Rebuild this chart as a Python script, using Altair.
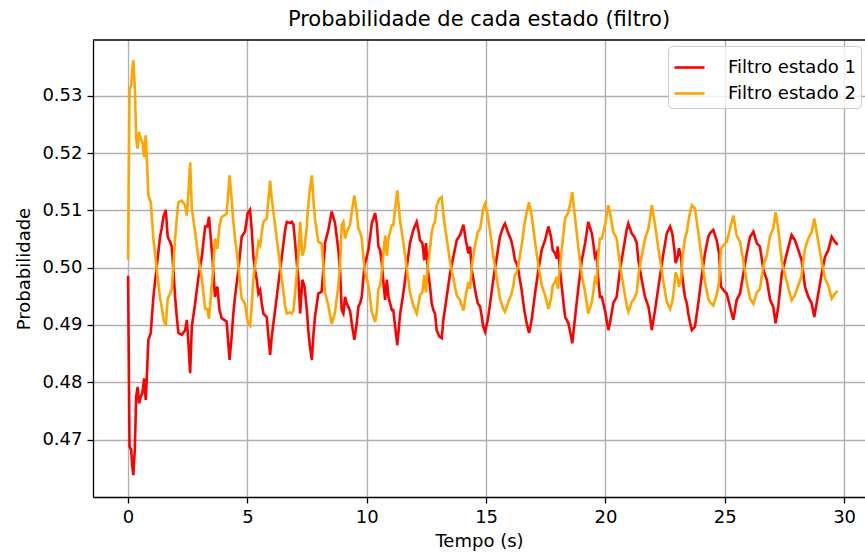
import altair as alt
import pandas as pd

# ---- data ----
time_s = [
    0.00, 0.06, 0.13, 0.17, 0.22, 0.28, 0.34, 0.40, 0.46, 0.53, 0.60, 0.67, 0.74, 0.78, 0.85, 0.95,
    1.06, 1.20, 1.34, 1.41, 1.48, 1.58, 1.66, 1.76, 1.83, 1.90, 1.97, 2.04, 2.11, 2.25, 2.39, 2.46,
    2.53, 2.60, 2.67, 2.81, 2.95, 3.09, 3.23, 3.32, 3.39, 3.46, 3.55, 3.64, 3.74, 3.83, 3.92, 4.13,
    4.25, 4.34, 4.41, 4.48, 4.62, 4.76, 4.90, 5.01, 5.11, 5.18, 5.25, 5.32, 5.39, 5.46, 5.53, 5.60,
    5.67, 5.81, 5.88, 5.95, 6.02, 6.16, 6.30, 6.44, 6.58, 6.65, 6.79, 6.86, 6.93, 7.00, 7.07, 7.14,
    7.21, 7.30, 7.39, 7.49, 7.55, 7.62, 7.70, 7.76, 7.83, 7.97, 8.11, 8.18, 8.25, 8.39, 8.53, 8.67,
    8.74, 8.81, 8.88, 8.95, 9.02, 9.09, 9.16, 9.30, 9.37, 9.48, 9.58, 9.65, 9.72, 9.79, 9.86, 9.93,
    10.00, 10.07, 10.14, 10.21, 10.35, 10.42, 10.49, 10.56, 10.63, 10.70, 10.77, 10.84, 10.91, 11.05, 11.11, 11.19,
    11.28, 11.40, 11.53, 11.68, 11.81, 11.95, 12.09, 12.16, 12.23, 12.33, 12.41, 12.48, 12.56, 12.65, 12.72, 12.79,
    12.86, 12.93, 13.04, 13.14, 13.21, 13.35, 13.49, 13.63, 13.77, 13.91, 14.05, 14.15, 14.26, 14.33, 14.40, 14.47,
    14.54, 14.65, 14.75, 14.82, 14.88, 14.96, 15.07, 15.17, 15.30, 15.45, 15.58, 15.72, 15.79, 15.93, 16.05, 16.14,
    16.21, 16.28, 16.35, 16.49, 16.60, 16.70, 16.80, 16.91, 17.05, 17.19, 17.33, 17.47, 17.61, 17.72, 17.79, 17.89,
    17.96, 18.00, 18.07, 18.17, 18.31, 18.45, 18.56, 18.61, 18.73, 18.87, 19.01, 19.15, 19.28, 19.43, 19.49, 19.56,
    19.63, 19.70, 19.77, 19.85, 19.91, 19.98, 20.05, 20.12, 20.19, 20.33, 20.47, 20.61, 20.75, 20.89, 20.96, 21.10,
    21.21, 21.31, 21.38, 21.52, 21.66, 21.80, 21.87, 21.94, 22.08, 22.22, 22.43, 22.57, 22.71, 22.80, 22.89, 22.94,
    23.03, 23.08, 23.17, 23.22, 23.33, 23.41, 23.47, 23.55, 23.62, 23.75, 23.89, 24.03, 24.17, 24.31, 24.38, 24.52,
    24.66, 24.76, 24.84, 24.94, 25.08, 25.22, 25.36, 25.50, 25.64, 25.78, 25.92, 26.06, 26.20, 26.34, 26.47, 26.62,
    26.76, 26.90, 27.03, 27.13, 27.24, 27.39, 27.60, 27.80, 27.94, 28.08, 28.22, 28.36, 28.50, 28.64, 28.75, 28.92,
    29.06, 29.20, 29.34, 29.48, 29.62, 29.73,
]

filtro_estado_1 = [
    0.4986, 0.4688, 0.4682, 0.4656, 0.4638, 0.4682, 0.4775, 0.4792, 0.4763, 0.4775, 0.4781, 0.4807, 0.4769, 0.4804, 0.4874, 0.4886,
    0.4949, 0.5002, 0.5054, 0.5069, 0.5089, 0.5101, 0.5054, 0.5045, 0.5037, 0.4996, 0.4949, 0.4914, 0.4886, 0.4883, 0.4891, 0.4909,
    0.4868, 0.4816, 0.4897, 0.4938, 0.4984, 0.5019, 0.5072, 0.5072, 0.5089, 0.5054, 0.5008, 0.4949, 0.4967, 0.4926, 0.4912, 0.4906,
    0.4839, 0.4880, 0.4920, 0.4949, 0.4996, 0.5054, 0.5063, 0.5095, 0.5101, 0.5066, 0.5019, 0.4996, 0.4979, 0.4955, 0.4961, 0.4938,
    0.4920, 0.4914, 0.4880, 0.4848, 0.4880, 0.4926, 0.4973, 0.5019, 0.5066, 0.5080, 0.5078, 0.5080, 0.5075, 0.5043, 0.5008, 0.4979,
    0.4920, 0.4979, 0.4967, 0.4926, 0.4891, 0.4862, 0.4839, 0.4880, 0.4914, 0.4955, 0.4958, 0.4996, 0.5043, 0.5066, 0.5098, 0.5078,
    0.5054, 0.5031, 0.4996, 0.4926, 0.4920, 0.4949, 0.4938, 0.4925, 0.4903, 0.4874, 0.4903, 0.4932, 0.4938, 0.4949, 0.4984, 0.5008,
    0.5019, 0.5031, 0.5054, 0.5077, 0.5095, 0.5077, 0.5037, 0.5031, 0.5008, 0.4973, 0.4944, 0.4979, 0.4949, 0.4926, 0.4926, 0.4897,
    0.4865, 0.4920, 0.4955, 0.5002, 0.5043, 0.5066, 0.5080, 0.5066, 0.5048, 0.5043, 0.5013, 0.5043, 0.4996, 0.4967, 0.4938, 0.4926,
    0.4920, 0.4891, 0.4880, 0.4877, 0.4909, 0.4949, 0.4990, 0.5019, 0.5048, 0.5057, 0.5075, 0.5048, 0.5025, 0.5037, 0.4996, 0.4979,
    0.4961, 0.4938, 0.4932, 0.4914, 0.4897, 0.4888, 0.4909, 0.4938, 0.4979, 0.5019, 0.5054, 0.5072, 0.5077, 0.5060, 0.5048, 0.5031,
    0.5013, 0.5008, 0.4996, 0.4961, 0.4926, 0.4903, 0.4886, 0.4909, 0.4955, 0.4996, 0.5031, 0.5048, 0.5072, 0.5054, 0.5031, 0.5025,
    0.5016, 0.5037, 0.5008, 0.4967, 0.4914, 0.4903, 0.4880, 0.4868, 0.4914, 0.4967, 0.5013, 0.5043, 0.5080, 0.5060, 0.5043, 0.5019,
    0.5025, 0.4979, 0.4949, 0.4949, 0.4938, 0.4926, 0.4909, 0.4891, 0.4903, 0.4938, 0.4949, 0.4996, 0.5031, 0.5066, 0.5077, 0.5060,
    0.5054, 0.5043, 0.5013, 0.4979, 0.4949, 0.4932, 0.4914, 0.4891, 0.4926, 0.4967, 0.5025, 0.5060, 0.5072, 0.5060, 0.5031, 0.5008,
    0.5019, 0.5034, 0.5019, 0.4984, 0.4949, 0.4938, 0.4920, 0.4903, 0.4891, 0.4897, 0.4938, 0.4984, 0.5025, 0.5054, 0.5060, 0.5066,
    0.5048, 0.5025, 0.4967, 0.4961, 0.4955, 0.4932, 0.4909, 0.4944, 0.4955, 0.4990, 0.5025, 0.5054, 0.5063, 0.5043, 0.5037, 0.4996,
    0.4979, 0.4944, 0.4932, 0.4903, 0.4932, 0.4990, 0.5025, 0.5057, 0.5048, 0.5031, 0.5013, 0.4967, 0.4949, 0.4938, 0.4914, 0.4955,
    0.4990, 0.5019, 0.5031, 0.5054, 0.5045, 0.5040,
]

filtro_estado_2 = [
    0.5014, 0.5312, 0.5318, 0.5344, 0.5362, 0.5318, 0.5225, 0.5208, 0.5237, 0.5225, 0.5219, 0.5193, 0.5231, 0.5196, 0.5126, 0.5114,
    0.5051, 0.4998, 0.4946, 0.4931, 0.4911, 0.4899, 0.4946, 0.4955, 0.4963, 0.5004, 0.5051, 0.5086, 0.5114, 0.5117, 0.5109, 0.5091,
    0.5132, 0.5184, 0.5103, 0.5062, 0.5016, 0.4981, 0.4928, 0.4928, 0.4911, 0.4946, 0.4992, 0.5051, 0.5033, 0.5074, 0.5088, 0.5094,
    0.5161, 0.5120, 0.5080, 0.5051, 0.5004, 0.4946, 0.4937, 0.4905, 0.4899, 0.4934, 0.4981, 0.5004, 0.5021, 0.5045, 0.5039, 0.5062,
    0.5080, 0.5086, 0.5120, 0.5152, 0.5120, 0.5074, 0.5027, 0.4981, 0.4934, 0.4920, 0.4922, 0.4920, 0.4925, 0.4957, 0.4992, 0.5021,
    0.5080, 0.5021, 0.5033, 0.5074, 0.5109, 0.5138, 0.5161, 0.5120, 0.5086, 0.5045, 0.5042, 0.5004, 0.4957, 0.4934, 0.4902, 0.4922,
    0.4946, 0.4969, 0.5004, 0.5074, 0.5080, 0.5051, 0.5062, 0.5075, 0.5097, 0.5126, 0.5097, 0.5068, 0.5062, 0.5051, 0.5016, 0.4992,
    0.4981, 0.4969, 0.4946, 0.4923, 0.4905, 0.4923, 0.4963, 0.4969, 0.4992, 0.5027, 0.5056, 0.5021, 0.5051, 0.5074, 0.5074, 0.5103,
    0.5135, 0.5080, 0.5045, 0.4998, 0.4957, 0.4934, 0.4920, 0.4934, 0.4952, 0.4957, 0.4987, 0.4957, 0.5004, 0.5033, 0.5062, 0.5074,
    0.5080, 0.5109, 0.5120, 0.5123, 0.5091, 0.5051, 0.5010, 0.4981, 0.4952, 0.4943, 0.4925, 0.4952, 0.4975, 0.4963, 0.5004, 0.5021,
    0.5039, 0.5062, 0.5068, 0.5086, 0.5103, 0.5112, 0.5091, 0.5062, 0.5021, 0.4981, 0.4946, 0.4928, 0.4923, 0.4940, 0.4952, 0.4969,
    0.4987, 0.4992, 0.5004, 0.5039, 0.5074, 0.5097, 0.5114, 0.5091, 0.5045, 0.5004, 0.4969, 0.4952, 0.4928, 0.4946, 0.4969, 0.4975,
    0.4984, 0.4963, 0.4992, 0.5033, 0.5086, 0.5097, 0.5120, 0.5132, 0.5086, 0.5033, 0.4987, 0.4957, 0.4920, 0.4940, 0.4957, 0.4981,
    0.4975, 0.5021, 0.5051, 0.5051, 0.5062, 0.5074, 0.5091, 0.5109, 0.5097, 0.5062, 0.5051, 0.5004, 0.4969, 0.4934, 0.4923, 0.4940,
    0.4946, 0.4957, 0.4987, 0.5021, 0.5051, 0.5068, 0.5086, 0.5109, 0.5074, 0.5033, 0.4975, 0.4940, 0.4928, 0.4940, 0.4969, 0.4992,
    0.4981, 0.4966, 0.4981, 0.5016, 0.5051, 0.5062, 0.5080, 0.5097, 0.5109, 0.5103, 0.5062, 0.5016, 0.4975, 0.4946, 0.4940, 0.4934,
    0.4952, 0.4975, 0.5033, 0.5039, 0.5045, 0.5068, 0.5091, 0.5056, 0.5045, 0.5010, 0.4975, 0.4946, 0.4937, 0.4957, 0.4963, 0.5004,
    0.5021, 0.5056, 0.5068, 0.5097, 0.5068, 0.5010, 0.4975, 0.4943, 0.4952, 0.4969, 0.4987, 0.5033, 0.5051, 0.5062, 0.5086, 0.5045,
    0.5010, 0.4981, 0.4969, 0.4946, 0.4955, 0.4960,
]

series_names = ["Filtro estado 1", "Filtro estado 2"]
series_colors = ["red", "orange"]
x_ticks = [0, 5, 10, 15, 20, 25, 30]
y_ticks = [0.47, 0.48, 0.49, 0.50, 0.51, 0.52, 0.53]

n = len(time_s)
df = pd.DataFrame({
    "t": time_s + time_s,
    "p": filtro_estado_1 + filtro_estado_2,
    "serie": [series_names[0]] * n + [series_names[1]] * n,
    "ordem": list(range(n)) + list(range(n)),
})

FONT = "DejaVu Sans"
PLOT_W = 772
PLOT_H = 457

lines = (
    alt.Chart(df)
    .mark_line(strokeWidth=2.6, clip=True)
    .encode(
        x=alt.X(
            "t:Q",
            scale=alt.Scale(domain=[-1.47, 30.875], nice=False, zero=False),
            axis=alt.Axis(values=x_ticks, format="d", title="Tempo (s)", titlePadding=6),
        ),
        y=alt.Y(
            "p:Q",
            scale=alt.Scale(domain=[0.45998, 0.53974], nice=False, zero=False),
            axis=alt.Axis(values=y_ticks, format=".2f", title="Probabilidade", titlePadding=8),
        ),
        color=alt.Color(
            "serie:N",
            scale=alt.Scale(domain=series_names, range=series_colors),
            legend=alt.Legend(
                title=None,
                orient="none",
                legendX=575,
                legendY=6,
                symbolType="stroke",
                symbolSize=900,
                symbolStrokeWidth=2.6,
                labelFont=FONT,
                labelFontSize=18,
                labelColor="black",
                labelOffset=22,
                padding=5,
                rowPadding=-3,
                fillColor="rgba(255,255,255,0.8)",
                strokeColor="#cccccc",
                cornerRadius=4,
            ),
        ),
        order="ordem:Q",
    )
)

# top spine of the axes frame (the right spine lies outside the cropped picture)
top_spine = (
    alt.Chart(pd.DataFrame({"k": [0]}))
    .mark_rule(color="black", strokeWidth=1.3)
    .encode(x=alt.value(0), x2=alt.value(PLOT_W), y=alt.value(0))
)

chart = (
    alt.layer(lines, top_spine)
    .properties(
        width=PLOT_W,
        height=PLOT_H,
        background="white",
        title=alt.TitleParams(
            "Probabilidade de cada estado (filtro)",
            font=FONT,
            fontSize=21,
            fontWeight="normal",
            color="black",
            offset=9,
            anchor="middle",
        ),
        autosize=alt.AutoSizeParams(type="none"),
        padding={"left": 93, "top": 40, "right": 0, "bottom": 58},
    )
    .configure_axis(
        labelFont=FONT,
        labelFontSize=18,
        labelColor="black",
        labelPadding=5,
        titleFont=FONT,
        titleFontSize=18,
        titleFontWeight="normal",
        titleColor="black",
        tickColor="black",
        tickWidth=1.3,
        tickSize=6,
        domainColor="black",
        domainWidth=1.3,
        gridColor="#b0b0b0",
        gridWidth=1.4,
    )
    .configure_view(stroke=None)
)

chart.save("out.html", embed_options={"renderer": "svg", "actions": False})
